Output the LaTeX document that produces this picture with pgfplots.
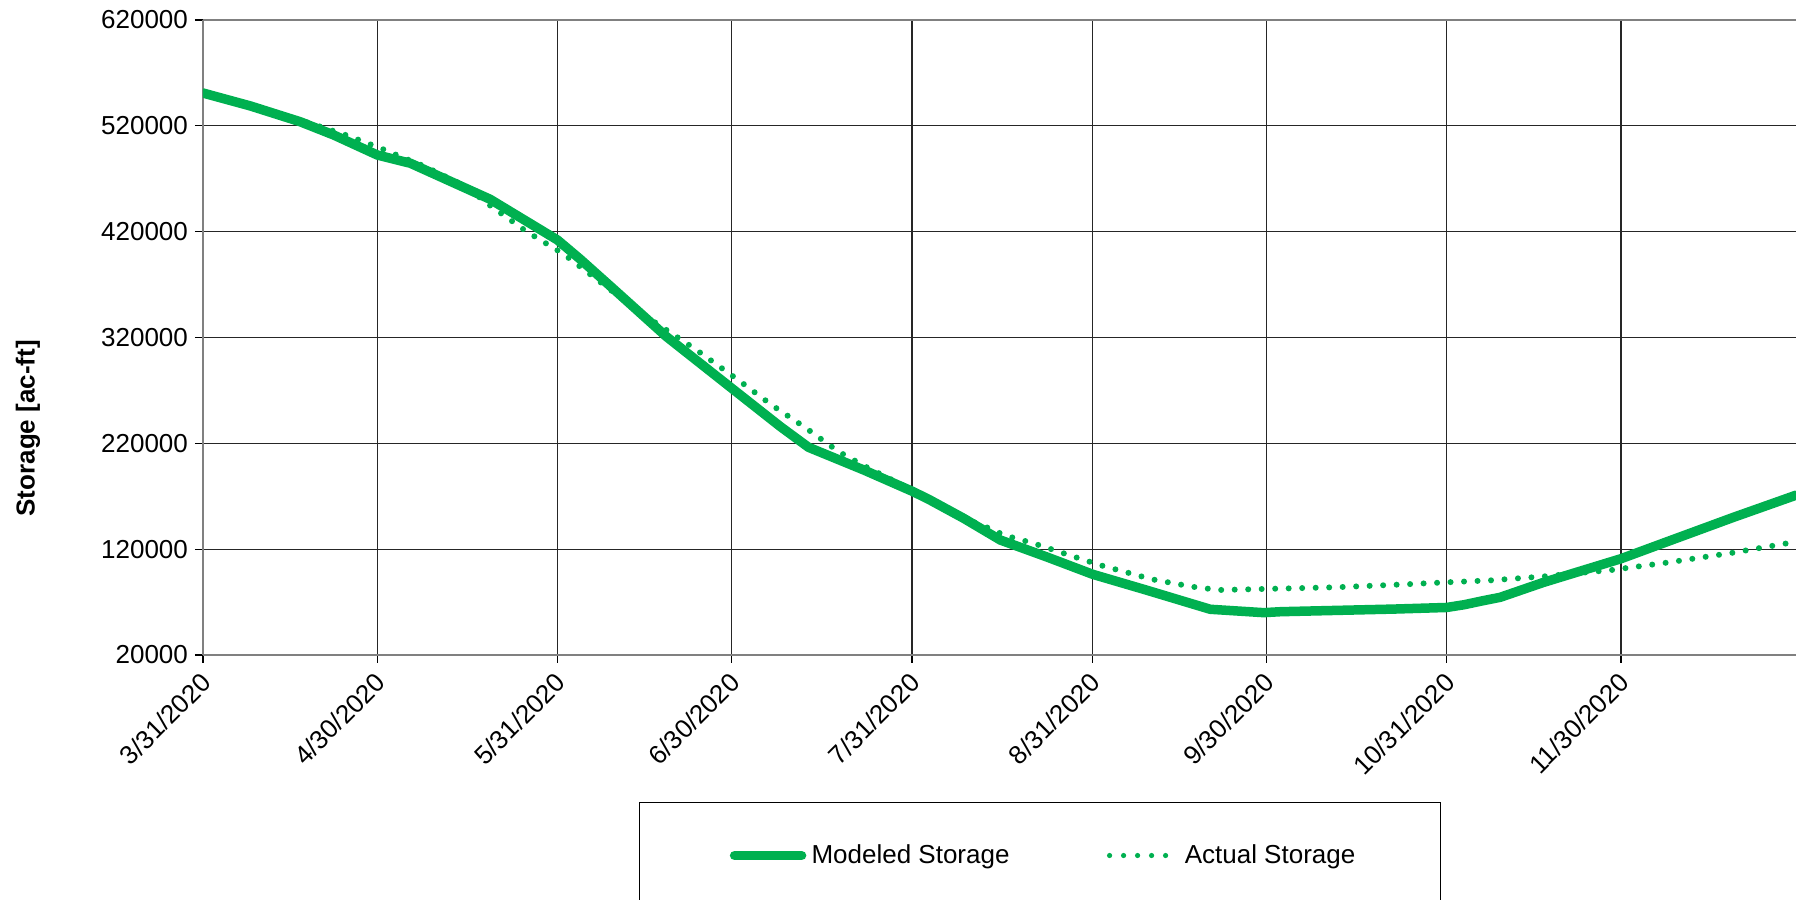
\documentclass[border=0pt]{standalone}
\usepackage{pgfplots}
\pgfplotsset{compat=1.18}
\usepackage{fontspec}
\setmainfont{Liberation Sans}
\definecolor{xlgreen}{HTML}{00B050}

\pgfplotsset{
  modimg/.style={legend image code/.code={\path[draw=none,fill=none] (0pt,0pt) -- (38.5pt,0pt); \draw[##1] (5pt,0pt) -- (38.5pt,0pt);}},
  actimg/.style={legend image code/.code={\path[draw=none,fill=none] (0pt,0pt) -- (38pt,0pt);
      \foreach \k in {0,1,2,3,4} {\fill[xlgreen, draw=none] ({3pt+\k*7pt},0pt) circle[radius=1.3pt];}}},
}

\pgfplotstableread{
day val
0 551000
8.2 538700
16.7 523900
22.5 511300
30 492400
35.7 484600
49.4 450600
61 412100
64.9 394000
70.6 366000
79.7 321000
91.1 271500
99.3 236000
104.2 216200
113.7 194800
122.2 174300
125.1 166400
130.9 149100
137.2 128600
145.2 112600
153.1 96200
162.4 81200
173.3 63200
182.5 60000
185.4 60900
205 63400
214 64900
217 67500
220 71000
223.2 74500
230.6 88500
244 111000
251.8 126800
263.3 150000
274.1 171000
}\modeled

\pgfplotstableread{
day val
0 551000
10 536500
17.8 523500
25 510500
31.4 497000
33.7 491500
38 482000
45.7 461500
48.3 449000
55.7 420000
62 399000
67.5 376000
72 357000
77.3 336000
84.7 309000
92.3 279000
97.9 256000
103.6 235000
105.6 227000
109.4 212000
114 198000
122 176000
130 151000
134.3 142000
138 133000
142.9 125500
149.8 113000
154.3 105000
163.3 91500
170.2 84500
174.8 81400
184.2 82600
195 84000
207.4 86900
214 88700
221.5 90500
230.6 94200
242.5 100400
251.8 107200
263.2 116600
274.1 127000
}\actual

\begin{document}
\begin{tikzpicture}
\begin{axis}[
  scale only axis,
  width=796.5pt, height=317.5pt,
  xmin=0, xmax=274.1,
  ymin=20000, ymax=620000,
  axis x line=box, axis y line=left,
  axis line style={-, draw=gray, line width=1.3pt},
  tick pos=left,
  tick align=outside, major tick length=4pt,
  tick style={black, line width=0.6pt},
  grid=major, grid style={black!85, line width=0.6pt},
  xtick={0,30,61,91,122,153,183,214,244},
  xticklabels={3/31/2020,4/30/2020,5/31/2020,6/30/2020,7/31/2020,8/31/2020,9/30/2020,10/31/2020,11/30/2020},
  ytick={20000,120000,...,620000},
  scaled y ticks=false,
  /pgf/number format/assume math mode=true,
  y tick label style={/pgf/number format/fixed, /pgf/number format/1000 sep={}},
  tick label style={font=\fontsize{13}{15}\selectfont},
  x tick label style={xshift=4pt, yshift=-5pt, rotate=45, anchor=east},
  ylabel={Storage [ac-ft]},
  every axis y label/.style={at={(axis description cs:-0.1099,0.357)}, rotate=90, anchor=center,
    font=\fontsize{13}{15}\selectfont\bfseries},
  legend columns=2,
  legend cell align=left,
  legend style={at={(axis description cs:0.2737,-0.2315)}, anchor=north west,
    draw=black, line width=0.6pt, inner xsep=42.5pt, inner ysep=21pt,
    font=\fontsize{13}{15}\selectfont, nodes={inner sep=0pt},
    /tikz/every even column/.append style={column sep=47pt},
    /tikz/every odd column/.append style={column sep=2.6pt}},
]
\coordinate (tl) at (rel axis cs:0,1);
\coordinate (br) at (rel axis cs:1,0);
\addplot[xlgreen, line width=4.75pt, line join=round, line cap=round, modimg]
  table[x=day, y=val] {\modeled};
\addlegendentry{Modeled Storage}
\addplot[xlgreen, line width=3pt, line cap=round, dash pattern=on 0pt off 6.75pt, actimg]
  table[x=day, y=val] {\actual};
\addlegendentry{Actual Storage}
\end{axis}
\pgfresetboundingbox
\path[use as bounding box] ([xshift=-101.5pt,yshift=10pt]tl) rectangle ([yshift=-122.5pt]br);
\end{tikzpicture}
\end{document}
